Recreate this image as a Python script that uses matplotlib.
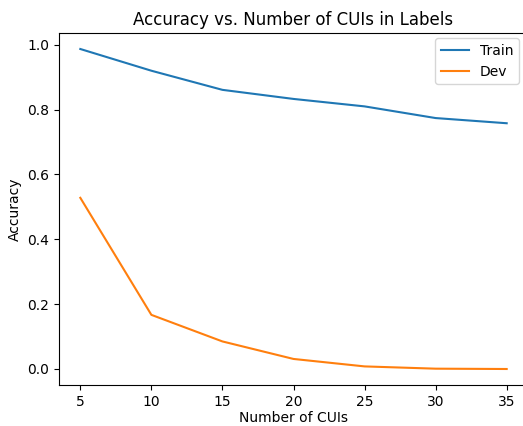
import matplotlib
matplotlib.use("Agg")
import matplotlib.pyplot as plt

num_cuis = [5, 10, 15, 20, 25, 30, 35]
train_acc = [0.987, 0.920, 0.861, 0.833, 0.810, 0.774, 0.758]
dev_acc = [0.528, 0.167, 0.085, 0.031, 0.008, 0.001, 0.000]

fig = plt.figure(figsize=(5.23, 4.26), dpi=100)
ax = fig.add_axes([59 / 523, 41 / 426, 469 / 523, 352 / 426])

ax.plot(num_cuis, train_acc, label="Train")
ax.plot(num_cuis, dev_acc, label="Dev")

ax.set_title("Accuracy vs. Number of CUIs in Labels")
ax.set_xlabel("Number of CUIs", labelpad=2)
ax.set_ylabel("Accuracy")
ax.legend(loc="upper right", bbox_to_anchor=(0.995, 1.005))

fig.savefig("out.png", dpi=100)
